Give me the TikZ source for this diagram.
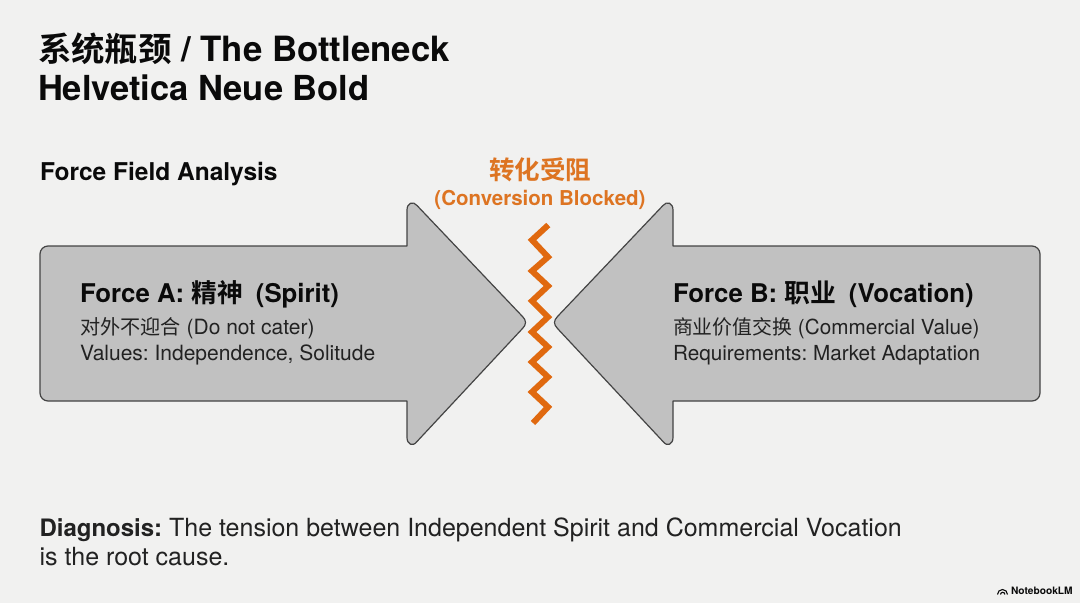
\documentclass[tikz,border=0pt]{standalone}
\usepackage{fontspec}
\setmainfont{TeX Gyre Heros}
\newfontfamily\cjkb[Scale=0.96,BoldFont={Noto Sans CJK SC Bold}]{Noto Sans CJK SC}
\newfontfamily\cjkf[BoldFont={Noto Sans CJK SC Bold}]{Noto Sans CJK SC}
\newcommand{\zh}[1]{{\cjkb #1}}
\newcommand{\zhf}[1]{{\cjkf #1}}
\definecolor{bgc}{HTML}{F1F1F0}
\definecolor{arrowfill}{HTML}{C1C1C1}
\definecolor{arrowline}{HTML}{444444}
\definecolor{orangec}{HTML}{DD7422}
\definecolor{zigc}{HTML}{E0690F}
\definecolor{inkc}{HTML}{0A0A0A}
\definecolor{subc}{HTML}{222222}
\tikzset{
  x=1pt,y=-1pt,
  txt/.style={anchor=base west,inner sep=0pt,outer sep=0pt,text=inkc},
  title/.style={txt,font=\fontsize{34.8}{35}\selectfont\bfseries},
  titleb/.style={txt,font=\fontsize{34.5}{35}\selectfont\bfseries},
  subhead/.style={txt,font=\fontsize{24.5}{25}\selectfont\bfseries},
  forcehead/.style={txt,font=\fontsize{25.8}{25}\selectfont\bfseries},
  forcesub/.style={txt,text=subc,font=\fontsize{20.7}{20}\selectfont},
  forcesubw/.style={txt,text=subc,font=\fontsize{21}{20}\selectfont},
  diag/.style={txt,text=subc,font=\fontsize{25}{24}\selectfont},
  orangetxt/.style={anchor=base,inner sep=0pt,outer sep=0pt,text=orangec},
  bigarrow/.style={fill=arrowfill,draw=arrowline,line width=1.2pt,line join=round},
}
\begin{document}
\frenchspacing
\begin{tikzpicture}
\useasboundingbox (0,0) rectangle (1080,603);
\fill[bgc] (0,0) rectangle (1080,603);
% arrows
\draw[bigarrow] (407,246) -- (407,210)
  .. controls (407,203) and (413,200.5) .. (417,205.5)
  -- (522.5,316.5) .. controls (526.5,320.5) and (526.5,324.5) .. (522.5,328.5)
  -- (417,441.5) .. controls (413,447) and (407,444.5) .. (407,437.5)
  -- (407,401) [rounded corners=8pt] -- (40,401) -- (40,246) [rounded corners=0pt] -- cycle;
\draw[bigarrow] (673,246) -- (673,210)
  .. controls (673,203) and (667,200.5) .. (663,205.5)
  -- (557.5,316.5) .. controls (553.5,320.5) and (553.5,324.5) .. (557.5,328.5)
  -- (663,441.5) .. controls (667,447) and (673,444.5) .. (673,437.5)
  -- (673,401) [rounded corners=8pt] -- (1040,401) -- (1040,246) [rounded corners=0pt] -- cycle;
% zigzag
\draw[zigc,line width=6pt,line join=miter]
  (548.3,225) -- (532,240) -- (548,257) -- (532,271) -- (548,286) -- (532,301)
  -- (548,317) -- (532,332) -- (548,347) -- (532,362) -- (548,377) -- (532,392)
  -- (548,407) -- (533,423);
% text
\node[title] (t1) at (38,61) {\zh{系统瓶颈} / The Bottleneck};
\node[titleb] (t2) at (38,100) {Helvetica Neue Bold};
\node[subhead] (ffa) at (40,180) {Force Field Analysis};
\node[orangetxt,font=\fontsize{25.5}{24}\selectfont\bfseries] (o1) at (540,179) {\zhf{转化受阻}};
\node[orangetxt,font=\fontsize{20.5}{20}\selectfont\bfseries] (o2) at (540,205) {(Conversion Blocked)};
\node[forcehead] (a1) at (80,302) {Force A: \zhf{精神}\hspace{0.5em}(Spirit)};
\node[forcesubw] (a2) at (80,334) {\zh{对外不迎合} (Do not cater)};
\node[forcesubw] (a3) at (80,360) {Values: Independence, Solitude};
\node[forcehead] (b1) at (673,302) {Force B: \zhf{职业}\hspace{0.5em}(Vocation)};
\node[forcesub] (b2) at (673,334) {\zh{商业价值交换} (Commercial Value)};
\node[forcesub] (b3) at (673,360) {Requirements: Market Adaptation};
\node[diag] (d1) at (39.5,536) {{\fontsize{24}{24}\selectfont\bfseries Diagnosis:} The tension between Independent Spirit and Commercial Vocation};
\node[diag] (d2) at (39.5,565) {is the root cause.};
% logo
\draw[inkc,line width=1.1pt] (997.5,594.5) arc[start angle=180,delta angle=180,radius=5];
\draw[inkc,line width=1.1pt] (1000.5,594.5) arc[start angle=180,delta angle=180,radius=2.2];
\node[txt,font=\fontsize{10.2}{10}\selectfont\bfseries] (nlm) at (1011,594.5) {NotebookLM};
\end{tikzpicture}
\end{document}
